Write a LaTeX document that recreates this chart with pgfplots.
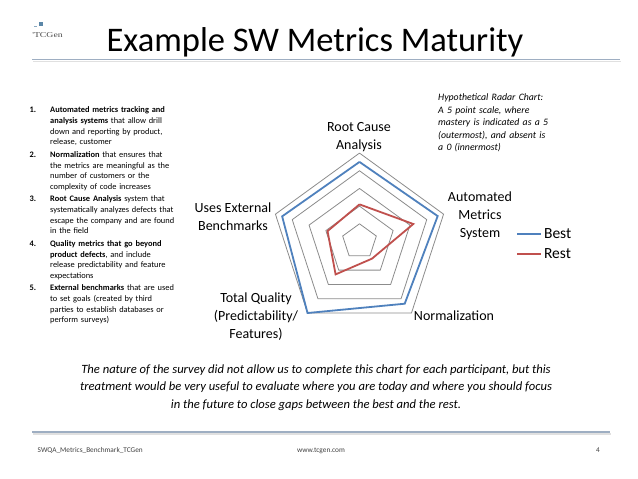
\documentclass[border=0pt]{standalone}
\usepackage{pgfplots}
\pgfplotsset{compat=1.18}
\usepgfplotslibrary{polar}
\usepackage{fontspec}
\setmainfont{Carlito}
\newfontfamily\logofont{Liberation Serif}
\definecolor{best}{HTML}{4F81BD}
\definecolor{rest}{HTML}{C0504D}
\definecolor{ringgray}{HTML}{8C8C8C}
\definecolor{rulecol}{HTML}{9EAEC2}
\definecolor{logoblue}{HTML}{5B87A8}
\begin{document}
\begin{tikzpicture}[x=1pt,y=1pt]
\fill[white] (0,0) rectangle (638,479);
% logo
\fill[logoblue] (39.3,479-26) rectangle (43.3,479-21.7);
\fill[logoblue!70] (34.3,479-27.5) rectangle (36.8,479-25.7);
\node[anchor=base west, inner sep=0, xscale=1.3, font=\logofont\fontsize{7.5}{7.5}\selectfont, text=black!70] at (32,479-38) {'TCGen};
% title
\node[anchor=base, inner sep=0, font=\fontsize{34.5}{38}\selectfont] at (315,479-52) {Example SW Metrics Maturity};
\draw[black!12, line width=1.2pt] (33,479-61.5) -- (621,479-61.5);
\draw[rulecol, line width=1.6pt] (32,479-59.5) -- (620,479-59.5);
% left list
\begin{scope}[every node/.style={inner sep=0, font=\fontsize{8.4}{10.6}\selectfont}]
\node[anchor=base west] at (29.5,479-113) {\textbf{1.}};
\node[anchor=base west, text width=135pt, align=left] at (50,479-113) {\textbf{Automated metrics tracking and}\\\textbf{analysis systems} that allow drill\\down and reporting by product,\\release, customer};
\node[anchor=base west] at (29.5,479-157.5) {\textbf{2.}};
\node[anchor=base west, text width=135pt, align=left] at (50,479-157.5) {\textbf{Normalization} that ensures that\\the metrics are meaningful as the\\number of customers or the\\complexity of code increases};
\node[anchor=base west] at (29.5,479-202) {\textbf{3.}};
\node[anchor=base west, text width=135pt, align=left] at (50,479-202) {\textbf{Root Cause Analysis} system that\\systematically analyzes defects that\\escape the company and are found\\in the field};
\node[anchor=base west] at (29.5,479-246.5) {\textbf{4.}};
\node[anchor=base west, text width=135pt, align=left] at (50,479-246.5) {\textbf{Quality metrics that go beyond}\\\textbf{product defects}, and include\\release predictability and feature\\expectations};
\node[anchor=base west] at (29.5,479-291) {\textbf{5.}};
\node[anchor=base west, text width=135pt, align=left] at (50,479-291) {\textbf{External benchmarks} that are used\\to set goals (created by third\\parties to establish databases or\\perform surveys)};
\end{scope}
% note
\node[anchor=base west, inner sep=0, text width=140pt, align=left, font=\itshape\fontsize{9.8}{12.6}\selectfont] at (438,479-100.5) {Hypothetical Radar Chart:\\A 5 point scale, where\\mastery is indicated as a 5\\(outermost), and absent is\\a 0 (innermost)};
% radar
\begin{polaraxis}[
  at={(359.5pt,237.5pt)}, anchor=center,
  scale only axis, width=176.8pt, height=176.8pt,
  ymin=0, ymax=5, xmin=0, xmax=360, hide axis, clip=false,
  legend style={at={(1.385,0.485)}, anchor=west, draw=none, fill=none,
    font=\fontsize{15.5}{17}\selectfont, row sep=9pt, inner sep=0pt,
    nodes={inner sep=0pt}},
  legend cell align=left,
  legend image code/.code={\draw[#1, line width=2pt] (0pt,0pt) -- (24pt,0pt); \path (26pt,0pt);},
]
\addplot[ringgray, line width=0.8pt, forget plot] coordinates {(90,1) (18,1) (-54,1) (-126,1) (162,1) (90,1)};
\addplot[ringgray, line width=0.8pt, forget plot] coordinates {(90,2) (18,2) (-54,2) (-126,2) (162,2) (90,2)};
\addplot[ringgray, line width=0.8pt, forget plot] coordinates {(90,3) (18,3) (-54,3) (-126,3) (162,3) (90,3)};
\addplot[ringgray, line width=0.8pt, forget plot] coordinates {(90,4) (18,4) (-54,4) (-126,4) (162,4) (90,4)};
\addplot[ringgray, line width=0.8pt, forget plot] coordinates {(90,5) (18,5) (-54,5) (-126,5) (162,5) (90,5)};
\addplot[best, line width=1.8pt, line join=miter] coordinates {(90,4.5) (18,4.65) (-54,4.35) (-126,5) (162,4.6) (90,4.5)};
\addplot[rest, line width=1.8pt, line join=miter] coordinates {(90,2.1) (18,3.2) (-54,1.2) (-126,2.3) (162,1.9) (90,2.1)};
\legend{Best, Rest}
\end{polaraxis}
% category labels
\begin{scope}[every node/.style={inner sep=0, font=\fontsize{14}{18}\selectfont, align=center}]
\node[anchor=base] at (359,479-150) {Root Cause\\Analysis};
\node[anchor=base] at (480,479-238) {Automated\\Metrics\\System};
\node[anchor=base] at (233,479-230.5) {Uses External\\Benchmarks};
\node[anchor=base] at (256,479-339) {Total Quality\\(Predictability/\\Features)};
\node[anchor=base] at (454,479-320.5) {Normalization};
\end{scope}
% bottom text
\node[anchor=base, inner sep=0, align=center, font=\itshape\fontsize{12.6}{17.6}\selectfont] at (316,479-408.5) {The nature of the survey did not allow us to complete this chart for each participant, but this\\treatment would be very useful to evaluate where you are today and where you should focus\\in the future to close gaps between the best and the rest.};
% footer
\draw[black!12, line width=1.2pt] (33,479-434) -- (611,479-434);
\draw[rulecol, line width=1.6pt] (32,479-432) -- (610,479-432);
\begin{scope}[every node/.style={inner sep=0, font=\fontsize{7.3}{7.3}\selectfont, text=black!75}]
\node[anchor=base west] at (37.5,479-452.5) {SWQA\_Metrics\_Benchmark\_TCGen};
\node[anchor=base] at (321,479-452.5) {www.tcgen.com};
\node[anchor=base east] at (600,479-452.5) {4};
\end{scope}
\end{tikzpicture}
\end{document}
